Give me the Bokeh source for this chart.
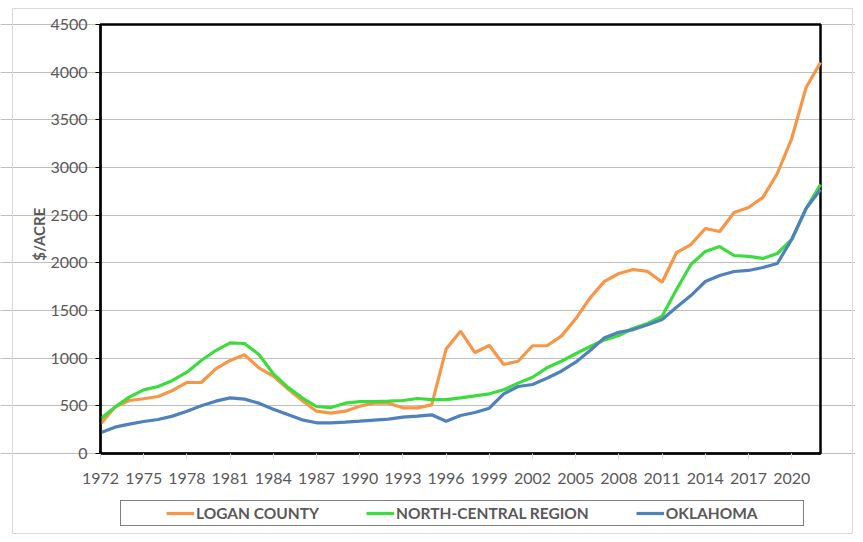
import math
from bokeh.plotting import figure
from bokeh.models import Legend, LegendItem, FixedTicker, Range1d, Label
from bokeh.embed import file_html
from bokeh.resources import INLINE

years = list(range(1972, 2023))
logan_county = [310, 486, 556, 574, 598, 661, 745, 745, 888, 976,
                1035, 899, 812, 679, 556, 444, 423, 444, 496, 528,
                528, 479, 479, 510, 1095, 1283, 1059, 1133, 934, 968,
                1130, 1130, 1231, 1413, 1633, 1805, 1888, 1930, 1910, 1797,
                2108, 2192, 2360, 2329, 2528, 2580, 2686, 2937, 3304, 3839, 4101]
north_central = [364, 486, 591, 668, 703, 766, 853, 976, 1080, 1161,
                 1154, 1039, 836, 696, 584, 493, 482, 528, 545, 545,
                 549, 556, 577, 566, 566, 584, 605, 626, 668, 738,
                 800, 899, 968, 1046, 1122, 1192, 1238, 1314, 1364, 1440,
                 1720, 1983, 2119, 2171, 2077, 2067, 2046, 2098, 2245, 2570, 2822]
oklahoma = [217, 276, 308, 336, 357, 392, 444, 500, 549, 584,
            570, 528, 465, 409, 353, 322, 322, 329, 339, 350,
            360, 381, 392, 406, 339, 399, 430, 475, 626, 703,
            724, 790, 863, 958, 1080, 1214, 1272, 1300, 1350, 1405,
            1535, 1657, 1804, 1867, 1909, 1920, 1951, 1993, 2245, 2570, 2769]
x_ticks = list(range(1972, 2021, 3))
y_ticks = list(range(0, 4501, 500))
series_names = ["LOGAN COUNTY", "NORTH-CENTRAL REGION", "OKLAHOMA"]
colors = ["#F79646", "#3CDC3C", "#4F81BD"]

FONT = "Lato"
GRAY = "#595959"

# ---- layout in pixels (whole canvas is the frame) ----
W, H = 855, 534
BOX_L, BOX_R, BOX_T, BOX_B = 100, 820, 24, 453     # plotting box
x0, x1 = years[0], years[-1]
y_max = y_ticks[-1]
px_x = (BOX_R - BOX_L) / (x1 - x0)
px_y = (BOX_B - BOX_T) / y_max
def dx(px):
    return x0 + (px - BOX_L) / px_x
def dy(py):
    return (BOX_B - py) / px_y

p = figure(width=W, height=H, output_backend="svg", toolbar_location=None,
           x_range=Range1d(dx(0), dx(W)), y_range=Range1d(dy(H), dy(0)),
           min_border=0)
p.background_fill_color = "white"
p.border_fill_color = "white"
p.outline_line_color = None
p.xgrid.grid_line_color = None
p.ygrid.grid_line_color = "#BFBFBF"
p.ygrid.grid_line_width = 1
p.ygrid.bounds = (x0, x1)

# chart-area border (light gray) and plotting-area box (black)
p.quad(left=[dx(12)], right=[dx(852)], bottom=[dy(533)], top=[dy(8)],
       fill_alpha=0, line_color="#D9D9D9", line_width=1)
p.quad(left=[x0], right=[x1], bottom=[y_ticks[0]], top=[y_max],
       fill_alpha=0, line_color="black", line_width=2.5)

renderers = []
for vals, c in zip([logan_county, north_central, oklahoma], colors):
    r = p.line(years, vals, line_color=c, line_width=3.2)
    renderers.append(r)

p.xaxis.ticker = FixedTicker(ticks=x_ticks)
p.yaxis.ticker = FixedTicker(ticks=y_ticks)
p.xaxis.fixed_location = 0
p.yaxis.fixed_location = x0
p.xaxis.bounds = (x0, x1)
p.yaxis.bounds = (0, y_max)
p.xaxis.minor_tick_line_color = None
p.yaxis.minor_tick_line_color = None
for ax in (p.xaxis, p.yaxis):
    ax.major_label_text_font = FONT
    ax.major_label_text_font_size = "16px"
    ax.major_label_text_color = GRAY
    ax.axis_line_color = "black"
    ax.axis_line_width = 2
    ax.major_tick_in = 0
    ax.major_tick_out = 5
    ax.major_label_standoff = 8
p.xaxis.major_label_standoff = 14
p.xaxis.major_tick_line_color = "#D9D9D9"
p.yaxis.major_tick_line_color = "black"

p.add_layout(Label(x=dx(38), y=y_max / 2 + 50, text="$/ACRE", angle=math.pi / 2,
                   text_align="center", text_baseline="middle",
                   text_font=FONT, text_font_style="bold",
                   text_font_size="15px", text_color=GRAY))

items = [LegendItem(label=n, renderers=[r]) for n, r in zip(series_names, renderers)]
legend = Legend(items=items, orientation="horizontal", location=(120, 8),
                label_text_font=FONT, label_text_font_style="bold",
                label_text_font_size="15.5px", label_text_color=GRAY,
                glyph_width=28, glyph_height=20, label_height=20,
                label_standoff=2, spacing=47, margin=0,
                border_line_color="black", border_line_width=1.3,
                background_fill_color="white", background_fill_alpha=1)
try:
    legend.padding = dict(left=45, right=45, top=2, bottom=2)
except Exception:
    try:
        legend.padding = (45, 45, 2, 2)
    except Exception:
        legend.padding = 2
p.add_layout(legend, "center")

open("out.html", "w").write(file_html(p, INLINE))
